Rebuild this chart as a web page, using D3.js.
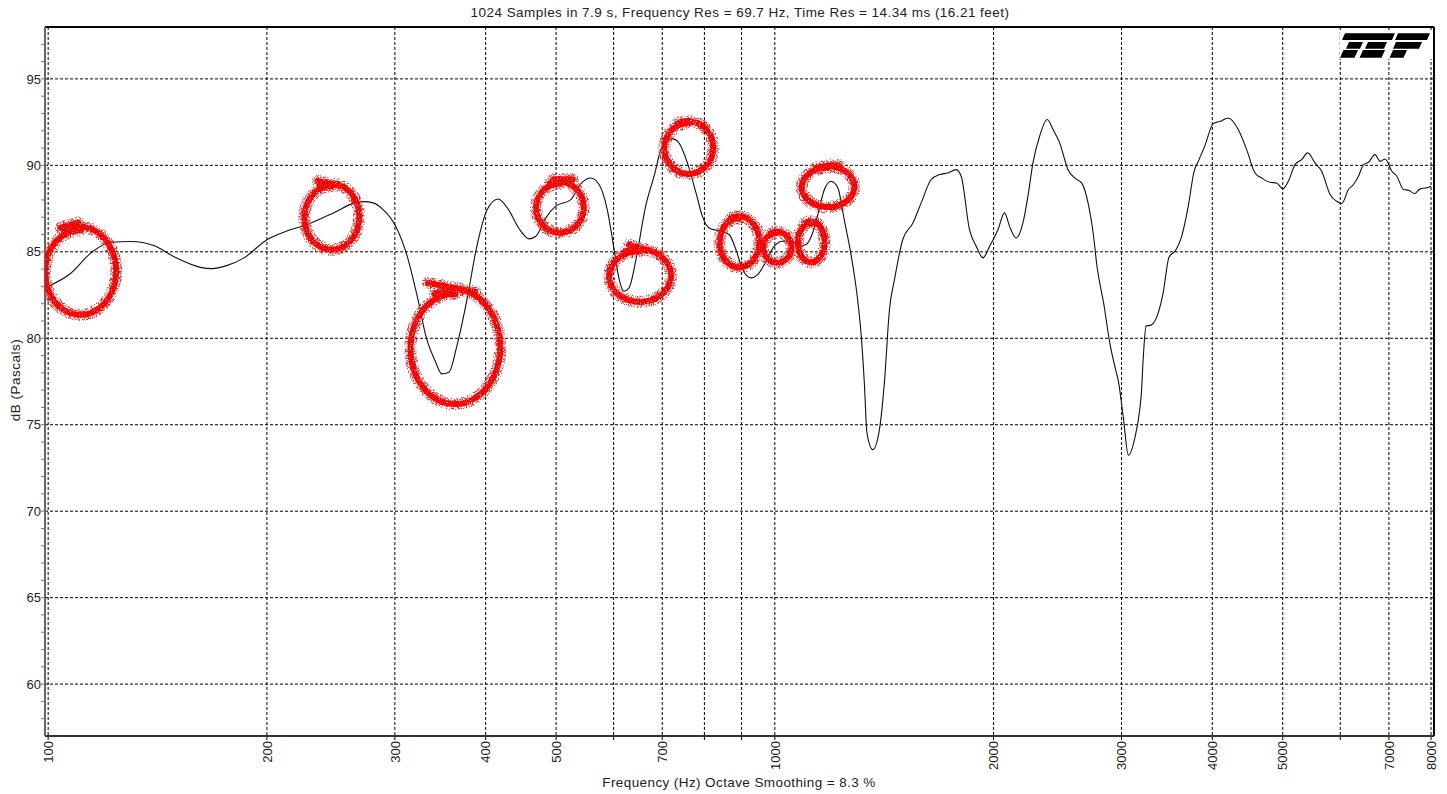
<!DOCTYPE html>
<html>
<head>
<meta charset="utf-8">
<script src="https://cdn.jsdelivr.net/npm/d3@7"></script>
<style>
  body { margin: 0; background: #fff; }
  text { font-family: "Liberation Sans", Arial, sans-serif; fill: #222; }
</style>
</head>
<body>
<div id="chart"></div>
<script>
// measured response (Hz, dB)
var freqs = [100,107,115,122,130,140,150,162,168,176,
  186,200,213,227,247,263,272,280,289,300,
  312,322,332,341,348,356,365,377,389,402,
  416,430,444,459,469,484,499,524,541,558,
  573,588,601,610,620,630,644,664,682,700,
  723,738,758,779,795,812,843,865,884,903,
  927,947,967,998,1025,1058,1080,1104,1127,1146,
  1170,1195,1221,1246,1273,1300,1314,1328,1339,1364,
  1393,1415,1438,1461,1500,1549,1590,1641,1685,1730,
  1776,1805,1853,1893,1934,1975,2028,2071,2104,2149,
  2195,2230,2266,2314,2371,2415,2466,2532,2586,2645,
  2698,2742,2777,2837,2890,2952,2968,3015,3066,3128,
  3178,3195,3213,3242,3298,3370,3423,3487,3560,3629,
  3706,3775,3826,3907,4013,4106,4207,4343,4460,4579,
  4677,4801,4905,5000,5090,5198,5309,5412,5539,5657,
  5809,5933,6028,6157,6256,6356,6458,6562,6699,6808,
  6917,7065,7178,7332,7450,7593,7729,7895,8000];

var levels = [83.0,83.7,85.0,85.55,85.6,85.35,84.65,84.1,84.03,84.2,
  84.65,85.7,86.2,86.57,87.25,87.8,87.9,87.83,87.44,86.57,
  84.74,82.43,79.92,78.67,77.94,78.03,79.53,82.24,85.32,87.44,
  88.05,87.44,86.38,85.75,85.9,86.96,87.63,88.02,88.94,89.27,
  88.89,87.44,85.13,83.49,82.72,82.91,84.55,87.63,89.37,91.1,
  91.53,91.3,90.14,88.41,87.05,86.38,86.19,86.0,85.13,83.97,
  83.49,83.68,84.26,85.32,85.61,85.61,85.32,85.42,86.09,87.15,
  88.6,89.08,88.71,86.86,84.84,82.24,80.31,77.42,74.53,73.56,
  74.72,77.42,81.66,83.39,85.71,86.67,87.83,89.18,89.47,89.56,
  89.75,89.37,86.28,85.32,84.65,85.32,86.28,87.25,86.47,85.8,
  86.67,88.21,90.14,91.68,92.65,92.07,91.3,89.75,89.27,88.97,
  87.83,86.09,84.09,81.95,79.75,78.0,77.6,75.53,73.24,74.2,
  75.87,76.84,78.77,80.69,80.77,81.47,82.62,84.69,85.07,85.88,
  87.63,89.64,90.23,91.14,92.41,92.55,92.74,92.07,90.91,89.56,
  89.27,89.02,88.98,88.64,89.08,90.04,90.33,90.72,90.14,89.66,
  88.31,87.92,87.79,88.6,88.89,89.37,90.04,90.18,90.62,90.23,
  90.37,89.66,89.37,88.6,88.56,88.37,88.64,88.7,88.79];

var xTickValues = [100,200,300,400,500,600,700,800,900,1000,2000,3000,4000,5000,6000,7000,8000];
var xTickLabels = ["100","200","300","400","500","","700","","","1000","2000","3000","4000","5000","","7000","8000"];
var yTickValues = [60,65,70,75,80,85,90,95];

// red hand-drawn marks: frequency span and dB span of each loop
var annoFreq = [[97,126],[221,272],[308,426],[461,554],[580,731],[692,835],[825,966],[948,1069],[1059,1187],[1069,1306]];
var annoDb = [[81.0,86.7],[84.8,89.2],[75.8,83.1],[85.8,89.3],[81.8,85.4],[89.2,92.8],[83.8,87.3],[84.1,86.4],[84.1,87.0],[87.3,90.2]];
// short extra strokes (start / end of the spray)
var strokeFreq = [[104,110],[235,252],[333,387],[496,527],[630,664],[1184,1226]];
var strokeDb = [[86.4,86.7],[89.1,88.8],[83.2,82.7],[89.2,89.2],[85.4,85.1],[90.0,90.0]];

var title = "1024 Samples in 7.9 s, Frequency Res = 69.7 Hz, Time Res = 14.34 ms (16.21 feet)";
var xTitle = "Frequency (Hz) Octave Smoothing = 8.3 %";
var yTitle = "dB (Pascals)";

var W = 1447, H = 794;
var margin = { top: 27, right: 13, bottom: 58, left: 45 };
var width = W - margin.left - margin.right;
var height = H - margin.top - margin.bottom;

var svg = d3.select("#chart")
  .append("svg")
  .attr("width", W)
  .attr("height", H);

var defs = svg.append("defs");
function spray(id, freq, slope, offset) {
  var f = defs.append("filter")
    .attr("id", id)
    .attr("filterUnits", "userSpaceOnUse")
    .attr("x", 0).attr("y", 0).attr("width", W).attr("height", H);
  f.append("feTurbulence")
    .attr("type", "fractalNoise")
    .attr("baseFrequency", freq)
    .attr("numOctaves", 2)
    .attr("seed", 7)
    .attr("result", "n");
  f.append("feColorMatrix")
    .attr("in", "n")
    .attr("type", "matrix")
    .attr("values", "0 0 0 0 0  0 0 0 0 0  0 0 0 0 0  0 0 0 " + slope + " " + offset)
    .attr("result", "m");
  f.append("feComposite")
    .attr("in", "SourceGraphic")
    .attr("in2", "m")
    .attr("operator", "in");
}
spray("sprayOuter", 1.1, 8, -3.9);
spray("sprayCore", 0.9, 5, -1.0);

var g = svg.append("g")
  .attr("transform", "translate(" + margin.left + "," + margin.top + ")");

var x = d3.scaleLog()
  .domain([99, 8075])
  .range([0, width]);

var y = d3.scaleLinear()
  .domain([57, 98])
  .range([height, 0]);

// grid
g.selectAll("line.hgrid")
  .data(yTickValues)
  .enter()
  .append("line")
  .attr("class", "hgrid")
  .attr("x1", 0).attr("x2", width)
  .attr("y1", function (d) { return y(d); })
  .attr("y2", function (d) { return y(d); })
  .attr("stroke", "#000")
  .attr("stroke-width", 1)
  .attr("stroke-dasharray", "3,2");

g.selectAll("line.vgrid")
  .data(xTickValues)
  .enter()
  .append("line")
  .attr("class", "vgrid")
  .attr("x1", function (d) { return x(d); })
  .attr("x2", function (d) { return x(d); })
  .attr("y1", 0).attr("y2", height + 4)
  .attr("stroke", "#000")
  .attr("stroke-width", 1)
  .attr("stroke-dasharray", "3,2");

// TEF logo
var logo = svg.append("g").attr("transform", "translate(1330,26)");
var bands = [
  [15, 65, 7.3, 14], [68, 100, 7.3, 14],
  [19, 33, 16, 22.7], [38, 57, 16, 22.7], [66, 92, 16, 22.7],
  [13.5, 28, 24, 31.7], [33, 55, 24, 31.7], [63, 77, 24, 31.7]
];
logo.append("rect")
  .attr("x", 10).attr("y", 6).attr("width", 93).attr("height", 27)
  .attr("fill", "#fff");
logo.selectAll("polygon")
  .data(bands)
  .enter()
  .append("polygon")
  .attr("points", function (b) {
    var k = 0.45 * (b[3] - b[2]);
    return [[b[0], b[2]], [b[1], b[2]], [b[1] - k, b[3]], [b[0] - k, b[3]]].join(" ");
  })
  .attr("fill", "#000");

// data line
var data = freqs.map(function (f, i) { return { f: f, db: levels[i] }; });
g.append("path")
  .datum(data)
  .attr("fill", "none")
  .attr("stroke", "#111")
  .attr("stroke-width", 1.1)
  .attr("d", d3.line()
    .x(function (d) { return x(d.f); })
    .y(function (d) { return y(d.db); })
    .curve(d3.curveMonotoneX));

// frame
g.append("line").attr("x1", 0).attr("x2", width).attr("y1", 0).attr("y2", 0)
  .attr("stroke", "#000").attr("stroke-width", 2);
g.append("line").attr("x1", width).attr("x2", width).attr("y1", 0).attr("y2", height)
  .attr("stroke", "#000").attr("stroke-width", 2);
g.append("line").attr("x1", 0).attr("x2", width).attr("y1", height).attr("y2", height)
  .attr("stroke", "#333").attr("stroke-width", 2);
g.append("line").attr("x1", 0).attr("x2", 0).attr("y1", 0).attr("y2", height)
  .attr("stroke", "#666").attr("stroke-width", 2);

// y ticks
g.selectAll("line.minor")
  .data(d3.range(58, 98))
  .enter()
  .append("line")
  .attr("class", "minor")
  .attr("x1", -4).attr("x2", -1)
  .attr("y1", function (d) { return y(d); })
  .attr("y2", function (d) { return y(d); })
  .attr("stroke", "#777");

g.selectAll("text.ylab")
  .data(yTickValues)
  .enter()
  .append("text")
  .attr("class", "ylab")
  .attr("x", -4)
  .attr("y", function (d) { return y(d); })
  .attr("dy", "0.36em")
  .attr("text-anchor", "end")
  .style("font-size", "13px")
  .text(function (d) { return d; });

// x labels
g.selectAll("text.xlab")
  .data(xTickValues)
  .enter()
  .append("text")
  .attr("class", "xlab")
  .attr("transform", function (d) {
    return "translate(" + x(d) + "," + (height + 5) + ") rotate(-90)";
  })
  .attr("dy", "0.36em")
  .attr("text-anchor", "end")
  .style("font-size", "13px")
  .text(function (d, i) { return xTickLabels[i]; });

svg.append("text")
  .attr("x", 740).attr("y", 17)
  .attr("text-anchor", "middle")
  .style("font-size", "13.5px")
  .style("letter-spacing", "0.45px")
  .text(title);

svg.append("text")
  .attr("x", 739).attr("y", 787)
  .attr("text-anchor", "middle")
  .style("font-size", "13.5px")
  .style("letter-spacing", "0.4px")
  .text(xTitle);

svg.append("text")
  .attr("transform", "translate(20,380) rotate(-90)")
  .attr("text-anchor", "middle")
  .style("font-size", "13.5px")
  .style("letter-spacing", "0.5px")
  .text(yTitle);

// red annotations
function loopPath(f, db) {
  var x0 = x(f[0]), x1 = x(f[1]);
  var y0 = y(db[1]), y1 = y(db[0]);
  var cx = (x0 + x1) / 2, cy = (y0 + y1) / 2;
  var rx = (x1 - x0) / 2 - 4, ry = (y1 - y0) / 2 - 4;
  var pts = [];
  var n = 72, a0 = -2.0, sweep = 2 * Math.PI + 0.45;
  for (var i = 0; i <= n; i++) {
    var t = i / n;
    var a = a0 + sweep * t;
    var s = 1 - 0.09 * t;
    pts.push([cx + rx * s * Math.cos(a), cy + ry * s * Math.sin(a)]);
  }
  return d3.line().curve(d3.curveCatmullRom)(pts);
}
function strokePath(f, db) {
  return d3.line()([[x(f[0]), y(db[0])], [x(f[1]), y(db[1])]]);
}

var paths = annoFreq.map(function (f, i) { return loopPath(f, annoDb[i]); })
  .concat(strokeFreq.map(function (f, i) { return strokePath(f, strokeDb[i]); }));

var outer = g.append("g").attr("filter", "url(#sprayOuter)");
outer.selectAll("path")
  .data(paths)
  .enter()
  .append("path")
  .attr("d", function (d) { return d; })
  .attr("fill", "none")
  .attr("stroke", "#ff2020")
  .attr("stroke-width", 12)
  .attr("stroke-linecap", "round");

var core = g.append("g").attr("filter", "url(#sprayCore)");
core.selectAll("path")
  .data(paths)
  .enter()
  .append("path")
  .attr("d", function (d) { return d; })
  .attr("fill", "none")
  .attr("stroke", "#ff0000")
  .attr("stroke-width", 6)
  .attr("stroke-linecap", "round");
</script>
</body>
</html>
